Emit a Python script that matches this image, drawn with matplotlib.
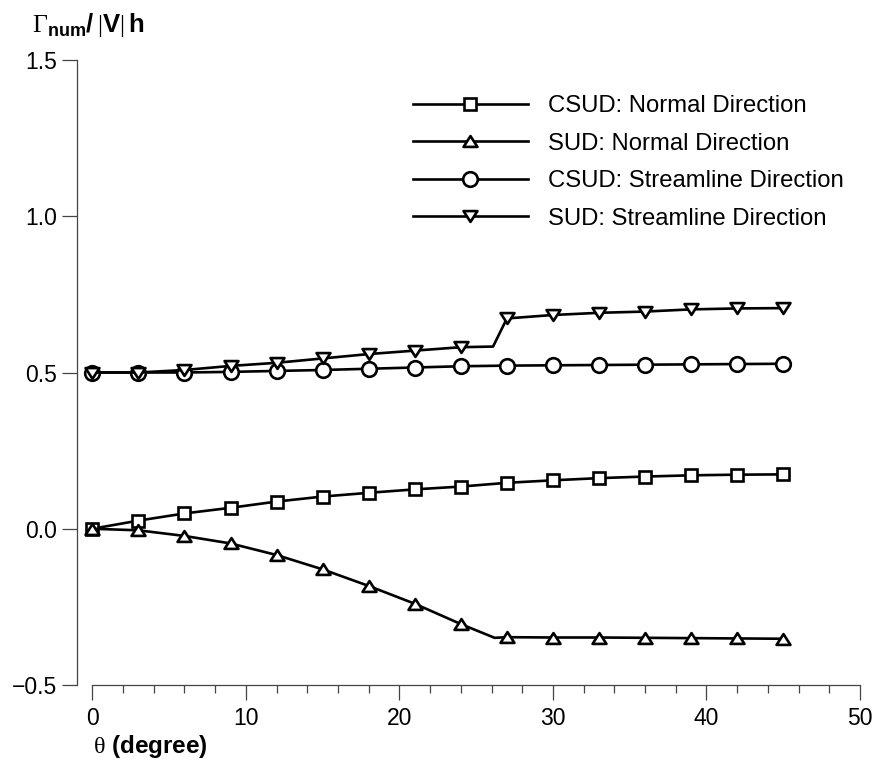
import matplotlib
matplotlib.use("Agg")
import matplotlib.pyplot as plt
from matplotlib.path import Path

plt.rcParams['font.family'] = ['Liberation Sans', 'DejaVu Sans']
plt.rcParams['mathtext.fontset'] = 'custom'
plt.rcParams['mathtext.rm'] = 'Liberation Serif'
plt.rcParams['mathtext.bf'] = 'Liberation Sans:bold'

# data
theta = [0, 3, 6, 9, 12, 15, 18, 21, 24, 27, 30, 33, 36, 39, 42, 45]
csud_normal = [0.0, 0.026, 0.049, 0.067, 0.087, 0.103, 0.115, 0.126, 0.135,
               0.147, 0.155, 0.162, 0.167, 0.171, 0.173, 0.174]
csud_stream = [0.5, 0.5, 0.5, 0.502, 0.505, 0.508, 0.512, 0.516, 0.52,
               0.522, 0.523, 0.524, 0.525, 0.526, 0.527, 0.528]

# SUD curves have a kink between 24 and 27 (no marker there)
theta_sud_n = [0, 3, 6, 9, 12, 15, 18, 21, 24, 26.2, 27, 30, 33, 36, 39, 42, 45]
sud_normal = [0.0, -0.005, -0.023, -0.047, -0.084, -0.130, -0.183, -0.240, -0.305,
              -0.349, -0.347, -0.348, -0.348, -0.349, -0.350, -0.351, -0.352]
theta_sud_s = [0, 3, 6, 9, 12, 15, 18, 21, 24, 26.1, 27, 30, 33, 36, 39, 42, 45]
sud_stream = [0.5, 0.5, 0.508, 0.521, 0.531, 0.545, 0.559, 0.570, 0.581,
              0.583, 0.673, 0.684, 0.691, 0.695, 0.702, 0.705, 0.706]
kink_idx = 9

labels = ["CSUD: Normal Direction", "SUD: Normal Direction",
          "CSUD: Streamline Direction", "SUD: Streamline Direction"]

y_ticks = [-0.5, 0.0, 0.5, 1.0, 1.5]
y_ticklabels = ["\u22120.5", "0.0", "0.5", "1.0", "1.5"]
x_ticks = [0, 10, 20, 30, 40, 50]
x_ticklabels = ["0", "10", "20", "30", "40", "50"]

# flatter triangles like the reference
h = 0.78
tri_up = Path([(0, h / 2), (-0.5, -h / 2), (0.5, -h / 2), (0, h / 2)], closed=True)
tri_dn = Path([(0, -h / 2), (-0.5, h / 2), (0.5, h / 2), (0, -h / 2)], closed=True)

W, H = 875, 762
fig = plt.figure(figsize=(W / 100, H / 100), dpi=100)
ax = fig.add_axes([77 / W, 1 - 685 / H, (860 - 77) / W, (685 - 60) / H])

style = dict(color='black', lw=1.9, mfc='white', mec='black', mew=1.9)
marks = [i for i in range(len(theta_sud_n)) if i != kink_idx]

ax.plot(theta, csud_normal, marker='s', ms=8, label=labels[0], **style)
ax.plot(theta_sud_n, sud_normal, marker=tri_up, ms=10, markevery=marks,
        label=labels[1], **style)
ax.plot(theta, csud_stream, marker='o', ms=10.5, label=labels[2], **style)
ax.plot(theta_sud_s, sud_stream, marker=tri_dn, ms=10, markevery=marks,
        label=labels[3], **style)

ax.set_xlim(-1, 50)
ax.set_ylim(-0.5, 1.5)
for s in ['top', 'right']:
    ax.spines[s].set_visible(False)
ax.spines['bottom'].set_bounds(0, 50)
for s in ['left', 'bottom']:
    ax.spines[s].set_color('#444444')
    ax.spines[s].set_linewidth(0.9)

ax.set_xticks(x_ticks)
ax.set_xticklabels(x_ticklabels)
ax.set_xticks(range(0, 51, 2), minor=True)
ax.set_yticks(y_ticks)
ax.set_yticklabels(y_ticklabels)
ax.tick_params(axis='both', which='major', direction='out', length=11,
               width=0.9, color='#444444', labelsize=16.5)
ax.tick_params(axis='x', which='minor', direction='out', length=6,
               width=0.9, color='#444444')
ax.tick_params(axis='y', pad=3.5)
ax.tick_params(axis='x', pad=5)

leg = ax.legend(loc='upper left', bbox_to_anchor=(413 / W, 1 - 95 / H),
                bbox_transform=fig.transFigure, frameon=False, fontsize=17.2,
                borderpad=0, borderaxespad=0, handlelength=4.8,
                handletextpad=0.85, labelspacing=0.65, numpoints=1)

fig.text(32 / W, 1 - 32 / H,
         r'$\mathrm{\Gamma}_{\mathbf{num}}\mathbf{/}\,|\mathbf{V}|\,\mathbf{h}$',
         fontsize=18.5, ha='left', va='baseline')
fig.text(93 / W, 1 - 747 / H, r'$\mathrm{\theta}$ (degree)', fontsize=17.5,
         fontweight='bold', ha='left', va='center')

fig.savefig("out.png", dpi=100)
